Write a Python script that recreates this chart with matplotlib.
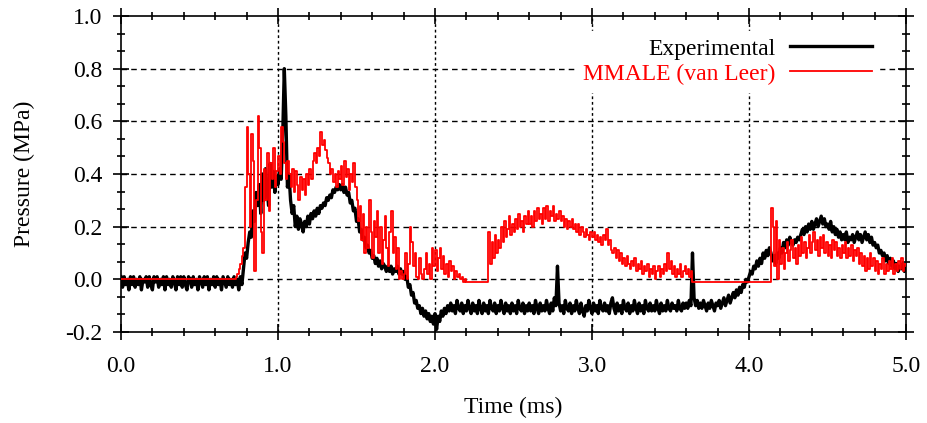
import numpy as np
import matplotlib
matplotlib.use("Agg")
import matplotlib.pyplot as plt
from matplotlib.ticker import AutoMinorLocator, FormatStrFormatter

# --- donnees (pas de 0.01 ms) ---
time_ms = np.round(np.arange(0, 501) * 0.01, 2)

experimental = [
    0.01, -0.03, 0.01, -0.02, 0.00, -0.04, 0.01, -0.02, 0.01, -0.03,
    0.00, -0.02, 0.01, -0.04, 0.00, -0.01, 0.01, -0.03, 0.01, -0.02,
    -0.04, 0.01, -0.01, 0.01, -0.03, 0.00, -0.02, 0.01, -0.04, 0.01,
    -0.02, 0.00, -0.03, 0.01, -0.01, -0.04, 0.01, -0.02, 0.01, -0.03,
    0.01, -0.02, -0.04, 0.01, 0.00, -0.03, 0.01, -0.02, 0.00, -0.04,
    0.01, -0.01, -0.03, 0.01, -0.02, 0.01, -0.04, 0.00, -0.02, 0.01,
    -0.03, 0.01, -0.02, 0.00, -0.04, 0.01, -0.01, -0.03, 0.01, -0.02,
    0.00, -0.03, 0.01, -0.02, 0.00, -0.04, 0.01, -0.02, 0.04, 0.10,
    0.08, 0.14, 0.18, 0.16, 0.26, 0.22, 0.33, 0.28, 0.36, 0.25,
    0.40, 0.30, 0.42, 0.34, 0.28, 0.44, 0.35, 0.41, 0.33, 0.39,
    0.36, 0.42, 0.38, 0.55, 0.80, 0.62, 0.35, 0.40, 0.30, 0.25,
    0.28, 0.20, 0.24, 0.19, 0.23, 0.21, 0.18, 0.22, 0.20, 0.24,
    0.21, 0.25, 0.23, 0.26, 0.24, 0.27, 0.25, 0.28, 0.27, 0.29,
    0.28, 0.31, 0.30, 0.32, 0.31, 0.34, 0.33, 0.35, 0.34, 0.36,
    0.34, 0.36, 0.33, 0.35, 0.32, 0.33, 0.29, 0.30, 0.26, 0.27,
    0.22, 0.23, 0.18, 0.19, 0.15, 0.16, 0.12, 0.13, 0.10, 0.11,
    0.08, 0.09, 0.06, 0.08, 0.05, 0.07, 0.04, 0.06, 0.05, 0.03,
    0.05, 0.03, 0.05, 0.02, 0.04, 0.03, 0.05, 0.02, 0.04, 0.02,
    0.03, 0.00, 0.01, -0.03, -0.02, -0.06, -0.05, -0.09, -0.08, -0.11,
    -0.10, -0.13, -0.11, -0.14, -0.12, -0.15, -0.13, -0.16, -0.14, -0.17,
    -0.13, -0.19, -0.14, -0.16, -0.12, -0.14, -0.11, -0.13, -0.10, -0.12,
    -0.09, -0.12, -0.10, -0.13, -0.08, -0.11, -0.12, -0.09, -0.13, -0.10,
    -0.12, -0.08, -0.11, -0.13, -0.09, -0.12, -0.10, -0.13, -0.08, -0.11,
    -0.13, -0.09, -0.12, -0.10, -0.13, -0.08, -0.11, -0.12, -0.09, -0.13,
    -0.10, -0.12, -0.08, -0.11, -0.13, -0.09, -0.12, -0.10, -0.13, -0.09,
    -0.12, -0.10, -0.13, -0.08, -0.11, -0.12, -0.09, -0.13, -0.10, -0.12,
    -0.09, -0.12, -0.10, -0.13, -0.08, -0.11, -0.13, -0.09, -0.12, -0.10,
    -0.12, -0.08, -0.11, -0.13, -0.09, -0.12, -0.07, -0.10, 0.05, -0.09,
    -0.12, -0.10, -0.13, -0.08, -0.11, -0.12, -0.09, -0.13, -0.10, -0.12,
    -0.08, -0.11, -0.13, -0.09, -0.12, -0.14, -0.10, -0.12, -0.08, -0.11,
    -0.13, -0.09, -0.12, -0.10, -0.13, -0.08, -0.11, -0.12, -0.09, -0.12,
    -0.10, -0.13, -0.09, -0.07, -0.11, -0.13, -0.09, -0.12, -0.10, -0.13,
    -0.08, -0.11, -0.12, -0.09, -0.13, -0.10, -0.12, -0.08, -0.11, -0.13,
    -0.09, -0.12, -0.10, -0.13, -0.08, -0.11, -0.12, -0.09, -0.12, -0.10,
    -0.12, -0.08, -0.11, -0.13, -0.09, -0.12, -0.10, -0.12, -0.08, -0.11,
    -0.12, -0.09, -0.11, -0.10, -0.12, -0.08, -0.11, -0.12, -0.09, -0.11,
    -0.09, -0.11, -0.08, -0.10, 0.10, -0.07, -0.10, -0.08, -0.11, -0.09,
    -0.11, -0.08, -0.10, -0.12, -0.09, -0.11, -0.08, -0.10, -0.12, -0.09,
    -0.10, -0.08, -0.11, -0.09, -0.07, -0.10, -0.08, -0.06, -0.09, -0.07,
    -0.05, -0.07, -0.04, -0.06, -0.03, -0.05, -0.02, -0.03, 0.00, -0.01,
    0.01, 0.03, 0.02, 0.05, 0.04, 0.07, 0.05, 0.08, 0.06, 0.10,
    0.08, 0.11, 0.09, 0.12, 0.10, 0.07, 0.09, 0.06, 0.10, 0.08,
    0.12, 0.10, 0.14, 0.12, 0.15, 0.13, 0.16, 0.14, 0.13, 0.15,
    0.14, 0.16, 0.15, 0.17, 0.19, 0.17, 0.20, 0.18, 0.21, 0.19,
    0.22, 0.19, 0.21, 0.23, 0.20, 0.22, 0.24, 0.21, 0.23, 0.20,
    0.21, 0.19, 0.22, 0.18, 0.20, 0.17, 0.19, 0.16, 0.18, 0.15,
    0.17, 0.15, 0.18, 0.14, 0.16, 0.15, 0.17, 0.14, 0.16, 0.18,
    0.15, 0.17, 0.14, 0.16, 0.18, 0.15, 0.17, 0.14, 0.16, 0.13,
    0.14, 0.12, 0.13, 0.10, 0.11, 0.09, 0.10, 0.07, 0.09, 0.06,
    0.08, 0.05, 0.07, 0.04, 0.06, 0.03, 0.05, 0.04, 0.06, 0.03,
    0.05,
]

mmale = [0.00] * 70 + [
    0.00, 0.00, 0.00, 0.01, 0.02, 0.04, 0.06, 0.09, 0.12, 0.35,
    0.58, 0.40, 0.20, 0.55, 0.45, 0.03, 0.30, 0.62, 0.50, 0.18,
    0.10, 0.42, 0.30, 0.48, 0.26, 0.44, 0.38, 0.50, 0.35, 0.41,
    0.47, 0.40, 0.58, 0.52, 0.44, 0.38, 0.45, 0.40, 0.35, 0.42,
    0.33, 0.41, 0.36, 0.30, 0.39, 0.34, 0.38, 0.32, 0.40, 0.36,
    0.42, 0.38, 0.45, 0.48, 0.44, 0.50, 0.47, 0.56, 0.51, 0.53,
    0.49, 0.46, 0.44, 0.40, 0.42, 0.37, 0.40, 0.35, 0.41, 0.38,
    0.43, 0.36, 0.45, 0.39, 0.42, 0.34, 0.40, 0.37, 0.44, 0.35,
    0.30, 0.22, 0.28, 0.15, 0.25, 0.10, 0.20, 0.12, 0.30, 0.18,
    0.08, 0.22, 0.16, 0.26, 0.10, 0.20, 0.06, 0.15, 0.24, 0.12,
    0.05, 0.18, 0.26, 0.10, 0.16, 0.04, 0.12, 0.00, 0.03, 0.00,
    0.02, 0.10, 0.00, 0.06, 0.20, 0.14, 0.05, 0.10, 0.01, 0.00,
    0.08, 0.02, 0.00, 0.04, 0.10, 0.02, 0.06, 0.00, 0.12, 0.05,
    0.11, 0.03, 0.08, 0.12, 0.04, 0.09, 0.02, 0.06, 0.01, 0.07,
    0.03, 0.05, 0.00, 0.03, 0.01, 0.02, 0.00, 0.01, -0.01, 0.00,
    -0.01, -0.01, -0.01, -0.01, -0.01, -0.01, -0.01, -0.01, -0.01, -0.01,
    -0.01, -0.01, -0.01, -0.01, 0.18, 0.06, 0.14, 0.08, 0.17, 0.10,
    0.15, 0.12, 0.20, 0.14, 0.22, 0.16, 0.19, 0.24, 0.17, 0.21,
    0.18, 0.23, 0.19, 0.25, 0.20, 0.22, 0.18, 0.24, 0.21, 0.26,
    0.21, 0.24, 0.20, 0.26, 0.22, 0.27, 0.23, 0.25, 0.21, 0.27,
    0.23, 0.28, 0.22, 0.26, 0.24, 0.28, 0.22, 0.25, 0.23, 0.26,
    0.22, 0.24, 0.20, 0.23, 0.19, 0.22, 0.20, 0.23, 0.19, 0.21,
    0.18, 0.21, 0.17, 0.20, 0.18, 0.16, 0.19, 0.17, 0.15, 0.18,
    0.16, 0.18, 0.15, 0.17, 0.14, 0.16, 0.13, 0.17, 0.15, 0.19,
    0.13, 0.15, 0.11, 0.10, 0.12, 0.08, 0.11, 0.07, 0.10, 0.06,
    0.08, 0.05, 0.09, 0.06, 0.04, 0.07, 0.05, 0.08, 0.03, 0.06,
    0.04, 0.07, 0.02, 0.05, 0.03, 0.06, 0.01, 0.04, 0.02, 0.05,
    0.00, 0.03, 0.05, 0.01, 0.04, 0.02, 0.06, 0.03, 0.10, 0.04,
    0.07, 0.02, 0.05, 0.01, 0.04, 0.02, 0.06, 0.01, 0.03, 0.05,
    0.02, 0.04, 0.01, 0.03, -0.01, -0.01, -0.01, -0.01, -0.01, -0.01,
] + [-0.01] * 44 + [
    0.27, 0.20, 0.05, 0.22, 0.00, 0.15,
    0.06, 0.12, 0.04, 0.10, 0.14, 0.07, 0.11, 0.15, 0.08, 0.12,
    0.06, 0.13, 0.09, 0.16, 0.10, 0.14, 0.08, 0.12, 0.17, 0.10,
    0.14, 0.18, 0.11, 0.15, 0.09, 0.16, 0.12, 0.17, 0.10, 0.14,
    0.09, 0.13, 0.08, 0.15, 0.11, 0.14, 0.09, 0.12, 0.08, 0.13,
    0.10, 0.14, 0.08, 0.12, 0.09, 0.13, 0.07, 0.11, 0.09, 0.12,
    0.06, 0.10, 0.05, 0.09, 0.03, 0.08, 0.04, 0.10, 0.05, 0.08,
    0.03, 0.07, 0.02, 0.06, 0.04, 0.08, 0.02, 0.06, 0.03, 0.07,
    0.04, 0.08, 0.02, 0.06, 0.03, 0.07, 0.04, 0.08, 0.03, 0.06,
    0.05,
]

x_ticks = [0.0, 1.0, 2.0, 3.0, 4.0, 5.0]
y_ticks = [-0.2, 0.0, 0.2, 0.4, 0.6, 0.8, 1.0]

plt.rcParams['font.family'] = ['Liberation Serif', 'DejaVu Serif']
plt.rcParams['font.size'] = 17

fig = plt.figure(figsize=(9.28, 4.23), dpi=100)
ax = fig.add_axes([0.1304, 0.2151, 0.8459, 0.7471])

ax.plot(time_ms, experimental, color='black', lw=2.4, label='Experimental', zorder=3)
ax.plot(time_ms, mmale, color='#ff0000', lw=1.3, drawstyle='steps-post',
        label='MMALE (van Leer)', zorder=4)

ax.set_xlim(0, 5)
ax.set_ylim(-0.2, 1.0)
ax.set_xticks(x_ticks)
ax.set_yticks(y_ticks)
ax.xaxis.set_major_formatter(FormatStrFormatter('%.1f'))
ax.yaxis.set_major_formatter(FormatStrFormatter('%.1f'))
ax.xaxis.set_minor_locator(AutoMinorLocator(5))
ax.yaxis.set_minor_locator(AutoMinorLocator(3))
ax.tick_params(which='both', direction='inout', top=True, right=True, width=1.2)
ax.tick_params(which='major', length=11, pad=8)
ax.tick_params(axis='x', which='major', pad=12)
ax.tick_params(which='minor', length=6)
for s in ax.spines.values():
    s.set_linewidth(1.2)

# grille : tirets horizontaux, pointilles verticaux
for yv in y_ticks[1:-1]:
    ax.axhline(yv, color='black', lw=1.0, ls=(0, (4, 3)), zorder=1)
for xv in x_ticks[1:-1]:
    ax.axvline(xv, color='black', lw=1.0, ls=(0, (2, 2)), zorder=1)

ax.set_xlabel('Time (ms)', labelpad=14)
ax.set_ylabel('Pressure (MPa)', labelpad=22)

leg = ax.legend(loc='upper right', bbox_to_anchor=(0.981, 0.99), markerfirst=False,
                handlelength=3.5, handletextpad=0.6, labelspacing=0.15,
                frameon=True, fancybox=False, edgecolor='white', framealpha=1.0,
                borderpad=0.3, labelcolor='linecolor')
leg.set_zorder(5)

fig.savefig('out.png', dpi=100)
